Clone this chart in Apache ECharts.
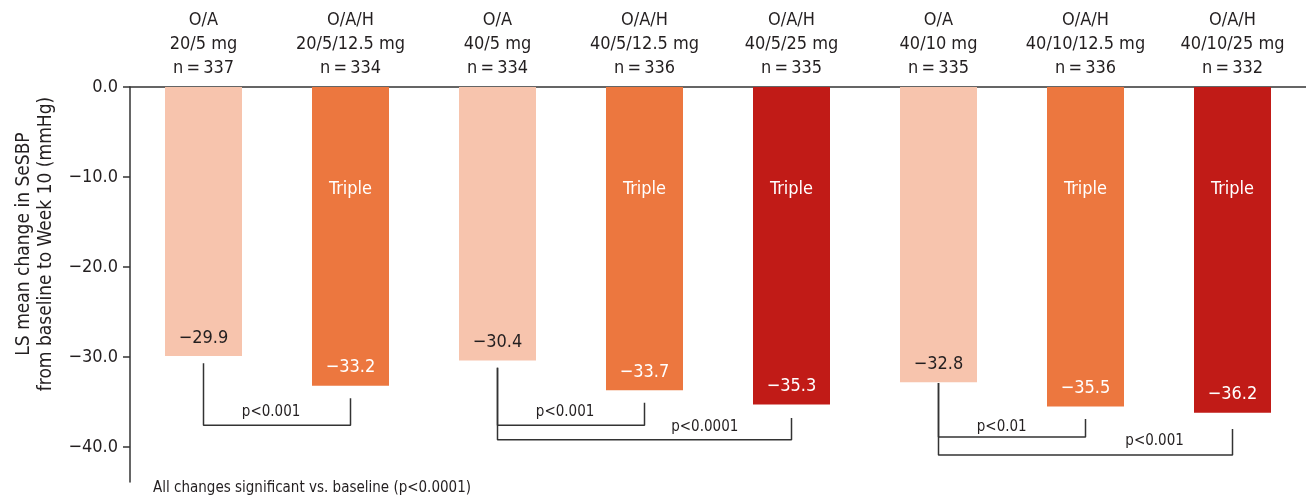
<!DOCTYPE html>
<html>
<head>
<meta charset="utf-8">
<script src="https://cdn.jsdelivr.net/npm/echarts@6/dist/echarts.min.js"></script>
<style>
html,body{margin:0;padding:0;background:#fff;}
#chart{width:1306px;height:498px;}
</style>
</head>
<body>
<div id="chart"></div>
<script>
// ---- data ----
const drugs = ['O/A', 'O/A/H', 'O/A', 'O/A/H', 'O/A/H', 'O/A', 'O/A/H', 'O/A/H'];
const doses = ['20/5 mg', '20/5/12.5 mg', '40/5 mg', '40/5/12.5 mg', '40/5/25 mg', '40/10 mg', '40/10/12.5 mg', '40/10/25 mg'];
const nValues = [337, 334, 334, 336, 335, 335, 336, 332];
const changes = [-29.9, -33.2, -30.4, -33.7, -35.3, -32.8, -35.5, -36.2];
const therapy = ['dual', 'triple12', 'dual', 'triple12', 'triple25', 'dual', 'triple12', 'triple25'];
const yTicks = [0, -10, -20, -30, -40];
const tripleLabelValue = -11.4;
// comparison brackets
const bracketFrom = [0, 2, 2, 5, 5];
const bracketTo = [1, 3, 4, 6, 7];
const bracketFromTop = [-30.7, -31.2, -31.2, -32.9, -32.9];
const bracketToTop = [-34.6, -35.1, -36.8, -36.9, -38.0];
const bracketLevel = [-37.6, -37.6, -39.2, -38.9, -40.9];
const bracketLabels = ['p<0.001', 'p<0.001', 'p<0.0001', 'p<0.01', 'p<0.001'];
const bracketLabelX = [0.46, 2.46, 3.41, 5.43, 6.47];
const bracketLabelY = [-36.1, -36.1, -37.8, -37.8, -39.4];
const footnote = 'All changes significant vs. baseline (p<0.0001)';
const yTitle = ['LS mean change in SeSBP', 'from baseline to Week 10 (mmHg)'];

// ---- styles ----
const FONT = "'DejaVu Sans Condensed', 'Liberation Sans Narrow', sans-serif";
const colors = { dual: '#F7C4AD', triple12: '#EC773F', triple25: '#C11B17' };
const labelColors = { dual: '#231F20', triple12: '#ffffff', triple25: '#ffffff' };
const AX = '#333333';
const TXT = '#231F20';

const categories = drugs.map((d, i) => d + '\n' + doses[i] + '\nn\u2009=\u2009' + nValues[i]);

const chart = echarts.init(document.getElementById('chart'));

const barData = changes.map((v, i) => ({
  value: v,
  itemStyle: { color: colors[therapy[i]] },
  label: { color: labelColors[therapy[i]] }
}));

const tripleData = [];
therapy.forEach((t, i) => { if (t !== 'dual') tripleData.push([i, tripleLabelValue]); });

const fmt = v => v === 0 ? '0.0' : '\u2212' + Math.abs(v).toFixed(1);

const bracketSeries = bracketFrom.map((f, k) => ({
  type: 'line',
  xAxisIndex: 1,
  yAxisIndex: 0,
  symbol: 'none',
  silent: true,
  z: 5,
  lineStyle: { color: AX, width: 1.5 },
  data: [[f, bracketFromTop[k]], [f, bracketLevel[k]], [bracketTo[k], bracketLevel[k]], [bracketTo[k], bracketToTop[k]]]
}));

const option = {
  animation: false,
  backgroundColor: '#ffffff',
  textStyle: { fontFamily: FONT },
  grid: { left: 130, right: -3, top: 87, bottom: 16, containLabel: false },
  xAxis: [{
    type: 'category',
    position: 'top',
    data: categories,
    axisLine: { show: true, lineStyle: { color: AX, width: 1.5 } },
    axisTick: { show: false },
    axisLabel: { fontSize: 18, lineHeight: 24, color: TXT, margin: 7, fontFamily: FONT, interval: 0 }
  }, {
    type: 'value',
    min: -0.5, max: 7.5,
    show: false
  }],
  yAxis: {
    type: 'value',
    min: -43.9,
    max: 0,
    axisLine: { show: true, onZero: false, lineStyle: { color: AX, width: 1.5 } },
    axisTick: { show: true, length: 7, customValues: yTicks, lineStyle: { color: AX, width: 1.5 } },
    axisLabel: { customValues: yTicks, formatter: fmt, fontSize: 18, color: TXT, margin: 12, fontFamily: FONT },
    splitLine: { show: false }
  },
  graphic: [{
    type: 'text',
    x: 35, y: 244,
    rotation: Math.PI / 2,
    style: {
      x: 0, y: 0,
      text: yTitle.join('\n'),
      fontSize: 19, lineHeight: 22, fontFamily: FONT, fill: TXT,
      textAlign: 'center', textVerticalAlign: 'middle'
    }
  }, {
    type: 'text',
    x: 153, y: 488,
    style: { x: 0, y: 0, text: footnote, fontSize: 15, fontFamily: FONT, fill: TXT, textVerticalAlign: 'middle' }
  }],
  series: [{
    type: 'bar',
    data: barData,
    barWidth: 77,
    label: {
      show: true,
      position: 'insideBottom',
      distance: 9,
      fontSize: 18,
      fontFamily: FONT,
      formatter: p => fmt(p.value)
    }
  }, {
    type: 'scatter',
    data: tripleData,
    symbolSize: 0,
    silent: true,
    itemStyle: { opacity: 1 },
    label: { show: true, position: 'inside', formatter: 'Triple', color: '#ffffff', fontSize: 18, fontFamily: FONT }
  }, ...bracketSeries, {
    type: 'scatter',
    xAxisIndex: 1,
    symbolSize: 0,
    silent: true,
    itemStyle: { opacity: 1 },
    data: bracketLabelX.map((x, k) => ({ value: [x, bracketLabelY[k]], name: bracketLabels[k] })),
    label: { show: true, position: 'inside', formatter: p => p.name, color: TXT, fontSize: 15, fontFamily: FONT }
  }]
};
chart.setOption(option);
</script>
</body>
</html>
